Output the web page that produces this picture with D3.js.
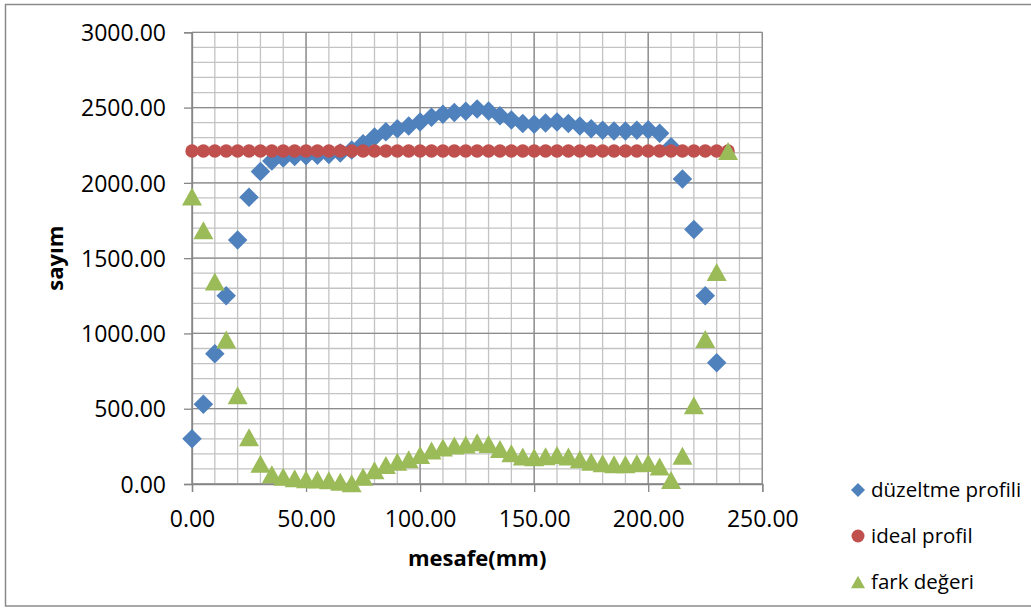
<!DOCTYPE html>
<html>
<head>
<meta charset="utf-8">
<script src="https://cdn.jsdelivr.net/npm/d3@7"></script>
<style>
  html, body { margin: 0; padding: 0; background: #fff; }
  svg { display: block; font-family: "Open Sans", "Noto Sans", sans-serif; }
</style>
</head>
<body>
<svg id="chart" width="1031" height="609"></svg>
<script>
// ---- data ----
const distance = [0,5,10,15,20,25,30,35,40,45,50,55,60,65,70,75,80,85,90,95,100,105,110,115,120,125,130,135,140,145,150,155,160,165,170,175,180,185,190,195,200,205,210,215,220,225,230,235];
const duzeltmeProfili = [300,530,865,1250,1620,1905,2075,2145,2165,2175,2180,2183,2188,2198,2218,2260,2305,2340,2360,2378,2405,2435,2455,2468,2475,2490,2478,2445,2418,2395,2390,2398,2405,2395,2378,2360,2350,2345,2345,2350,2352,2330,2240,2025,1690,1250,805,null];
const idealProfil = [2212,2212,2212,2212,2212,2212,2212,2212,2212,2212,2212,2212,2212,2212,2212,2212,2212,2212,2212,2212,2212,2212,2212,2212,2212,2212,2212,2212,2212,2212,2212,2212,2212,2212,2212,2212,2212,2212,2212,2212,2212,2212,2212,2212,2212,2212,2212,2212];
const farkDegeri = [1910,1685,1345,960,590,310,135,65,48,38,32,30,25,15,5,48,92,127,148,165,192,222,242,255,262,277,265,232,205,182,177,185,192,182,165,147,137,132,132,137,139,117,27,187,523,963,1408,2212];
const xTicks = [0,50,100,150,200,250];
const yTicks = [0,500,1000,1500,2000,2500,3000];
const seriesNames = ["düzeltme profili","ideal profil","fark değeri"];
const xTitle = "mesafe(mm)";
const yTitle = "sayım";

// ---- layout ----
const svg = d3.select("#chart");
const L = 192, R = 762.3, T = 32.3, B = 484;
const x = d3.scaleLinear().domain([0,250]).range([L,R]);
const y = d3.scaleLinear().domain([0,3000]).range([B,T]);

const colors = ["#4F81BD","#C0504D","#9BBB59"];

// outer border
svg.append("rect").attr("x",5.5).attr("y",4.5).attr("width",1100).attr("height",601.5)
  .attr("fill","#fff").attr("stroke","#8a8a8a").attr("stroke-width",1.5);

// gridlines
const g = svg.append("g");
const xMinor = x.ticks(25), yMinor = y.ticks(30);
g.selectAll("line.xm").data(xMinor).join("line")
  .attr("x1",d=>x(d)).attr("x2",d=>x(d)).attr("y1",T).attr("y2",B)
  .attr("stroke","#c3c3c3").attr("stroke-width",1.3);
g.selectAll("line.ym").data(yMinor).join("line")
  .attr("x1",L).attr("x2",R).attr("y1",d=>y(d)).attr("y2",d=>y(d))
  .attr("stroke","#c3c3c3").attr("stroke-width",1.3);
g.selectAll("line.xM").data(xTicks).join("line")
  .attr("x1",d=>x(d)).attr("x2",d=>x(d)).attr("y1",T).attr("y2",B)
  .attr("stroke","#8c8c8c").attr("stroke-width",1.3);
g.selectAll("line.yM").data(yTicks).join("line")
  .attr("x1",L).attr("x2",R).attr("y1",d=>y(d)).attr("y2",d=>y(d))
  .attr("stroke","#8c8c8c").attr("stroke-width",1.3);

// axes
const fmt = d3.format(".2f");
const yAxis = svg.append("g").attr("transform",`translate(${L},0)`)
  .call(d3.axisLeft(y).tickValues(yTicks).tickFormat(fmt).tickSize(8).tickPadding(18));
const xAxis = svg.append("g").attr("transform",`translate(0,${B})`)
  .call(d3.axisBottom(x).tickValues(xTicks).tickFormat(fmt).tickSize(8).tickPadding(18.5));
[xAxis,yAxis].forEach(a=>{
  a.select(".domain").attr("stroke","#868686").attr("stroke-width",1.3);
  a.selectAll(".tick line").attr("stroke","#868686").attr("stroke-width",1.3);
  a.selectAll(".tick text").attr("fill","#000").style("font-size","23px")
    .style("font-family","'Open Sans', sans-serif");
});
yAxis.selectAll(".tick text").attr("dy","0.36em");

// axis titles
svg.append("text").attr("x",(L+R)/2).attr("y",566).attr("text-anchor","middle")
  .style("font-size","22px").style("font-weight","bold").text(xTitle);
svg.append("text").attr("transform",`translate(63,${(T+B)/2}) rotate(-90)`)
  .attr("text-anchor","middle").style("font-size","22px").style("font-weight","bold").text(yTitle);

// symbol types (size = width)
const diamondType = { draw(ctx, s){ const h=s/2; ctx.moveTo(0,-h); ctx.lineTo(h,0); ctx.lineTo(0,h); ctx.lineTo(-h,0); ctx.closePath(); } };
const circleType = { draw(ctx, s){ const r=s/2; ctx.moveTo(r,0); ctx.arc(0,0,r,0,2*Math.PI); } };
const triangleType = { draw(ctx, s){ const w=s/2, hh=s*0.45; ctx.moveTo(0,-hh); ctx.lineTo(w,hh); ctx.lineTo(-w,hh); ctx.closePath(); } };

const series = [
  {vals: duzeltmeProfili, type: diamondType, size: 19.5},
  {vals: idealProfil, type: circleType, size: 13.4},
  {vals: farkDegeri, type: triangleType, size: 20}
];
series.forEach((s,i)=>{
  const pts = distance.map((d,j)=>({x:d, v:s.vals[j]})).filter(p=>p.v!=null);
  svg.append("g").selectAll("path").data(pts).join("path")
    .attr("transform",p=>`translate(${x(p.x)},${y(p.v)})`)
    .attr("d", d3.symbol().type(s.type).size(s.size)())
    .attr("fill", colors[i]);
});

// legend
const legY = [490, 536, 582];
const legSizes = [14, 13, 14];
const leg = svg.append("g");
seriesNames.forEach((n,i)=>{
  leg.append("path").attr("transform",`translate(858,${legY[i]})`)
    .attr("d", d3.symbol().type(series[i].type).size(legSizes[i])()).attr("fill",colors[i]);
  leg.append("text").attr("x",871).attr("y",legY[i]+7).style("font-size","20.5px").attr("fill","#000").text(n);
});
</script>
</body>
</html>
